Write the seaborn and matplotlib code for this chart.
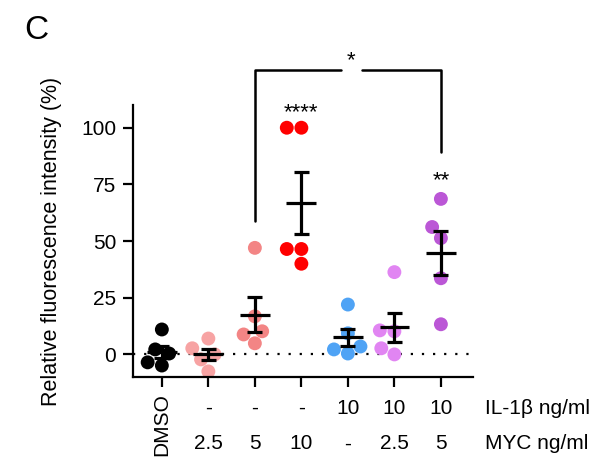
import numpy as np
import pandas as pd
import seaborn as sns
import matplotlib.pyplot as plt

# values (% relative fluorescence)
groups = ["DMSO", "MYC2.5", "MYC5", "MYC10", "IL10", "IL10_MYC2.5", "IL10_MYC5"]
dmso = [11, 2.2, 0.4, -4.9, -3.5]
myc_25 = [7, 0, 2.7, -2.2, -7.5]
myc_5 = [47, 16.8, 10.2, 8.8, 4.9]
myc_10 = [100, 100, 46.5, 46.5, 40]
il_10 = [22, 9.3, 3.5, 0.4, 2.2]
il_myc_25 = [36.3, 10.2, 10.6, 2.7, 0]
il_myc_5 = [68.6, 56.2, 51.3, 33.6, 13.3]

il_labels = ["", "-", "-", "-", "10", "10", "10"]
myc_labels = ["", "2.5", "5", "10", "-", "2.5", "5"]
colores = ["#000000", "#F7A3A3", "#F38585", "#FF0000", "#4FA3F5", "#E185F2", "#BB57D6"]

valores = [dmso, myc_25, myc_5, myc_10, il_10, il_myc_25, il_myc_5]
df = pd.DataFrame([(g, v) for g, vals in zip(groups, valores) for v in vals],
                  columns=["grupo", "valor"])

sns.set_style("ticks")
plt.rcParams["font.family"] = ["Liberation Sans", "DejaVu Sans"]
plt.rcParams.update({"text.color": "black", "axes.labelcolor": "black",
                     "xtick.color": "black", "ytick.color": "black",
                     "axes.edgecolor": "black"})

fig = plt.figure(figsize=(6.06, 4.69), dpi=100)
ax = fig.add_axes([0.2195, 0.196, 0.561, 0.58])

# dotted zero line
ax.axhline(0, color="black", linestyle=(0, (1, 4)), linewidth=1.6, zorder=0)

sns.swarmplot(data=df, x="grupo", y="valor", hue="grupo", order=groups,
              palette=colores, size=10, linewidth=0, legend=False, ax=ax, zorder=2)

# mean +/- SEM
res = df.groupby("grupo", sort=False)["valor"].agg(["mean", "sem"])
for i, g in enumerate(groups):
    m, s = res.loc[g, "mean"], res.loc[g, "sem"]
    ax.hlines(m, i - 0.32, i + 0.32, color="black", linewidth=2.3, zorder=3)
    ax.vlines(i, m - s, m + s, color="black", linewidth=2.3, zorder=3)
    ax.hlines([m - s, m + s], i - 0.16, i + 0.16, color="black", linewidth=2.3, zorder=3)

ax.set_xlim(-0.62, 6.69)
ax.set_ylim(-10, 110)
ax.set_yticks([0, 25, 50, 75, 100])
ax.set_xticks(range(7))
ax.set_xticklabels([""] * 7)
ax.set_xlabel("")
ax.set_ylabel("Relative fluorescence intensity (%)", fontsize=15.5)
ax.yaxis.set_label_coords(-0.209, 0.5)
ax.tick_params(axis="both", width=1.6, length=7, labelsize=15, color="black", pad=5)
for lado in ["left", "bottom"]:
    ax.spines[lado].set_linewidth(1.6)
sns.despine(ax=ax)

# significance
ax.text(3, 106.5, "****", ha="center", va="center", fontsize=16)
ax.text(6, 76.5, "**", ha="center", va="center", fontsize=16)
ax.plot([2, 2, 3.85], [59, 125.5, 125.5], color="black", linewidth=1.8, clip_on=False)
ax.plot([4.3, 6, 6], [125.5, 125.5, 89.5], color="black", linewidth=1.8, clip_on=False)
ax.text(4.07, 129.5, "*", ha="center", va="center", fontsize=16)

# condition rows under the axis
trans = ax.get_xaxis_transform()
for i in range(7):
    ax.text(i, -0.114, il_labels[i], ha="center", va="center", fontsize=15, transform=trans)
    ax.text(i, -0.246, myc_labels[i], ha="center", va="center", fontsize=15, transform=trans)
ax.text(0, -0.175, "DMSO", ha="center", va="center", rotation=90, fontsize=15, transform=trans)
ax.text(6.95, -0.114, "IL-1β ng/ml", ha="left", va="center", fontsize=15, transform=trans)
ax.text(6.95, -0.246, "MYC ng/ml", ha="left", va="center", fontsize=15, transform=trans)

fig.text(0.04, 0.935, "C", fontsize=24, ha="left", va="center")

plt.savefig("out.png", dpi=100)
plt.close()
